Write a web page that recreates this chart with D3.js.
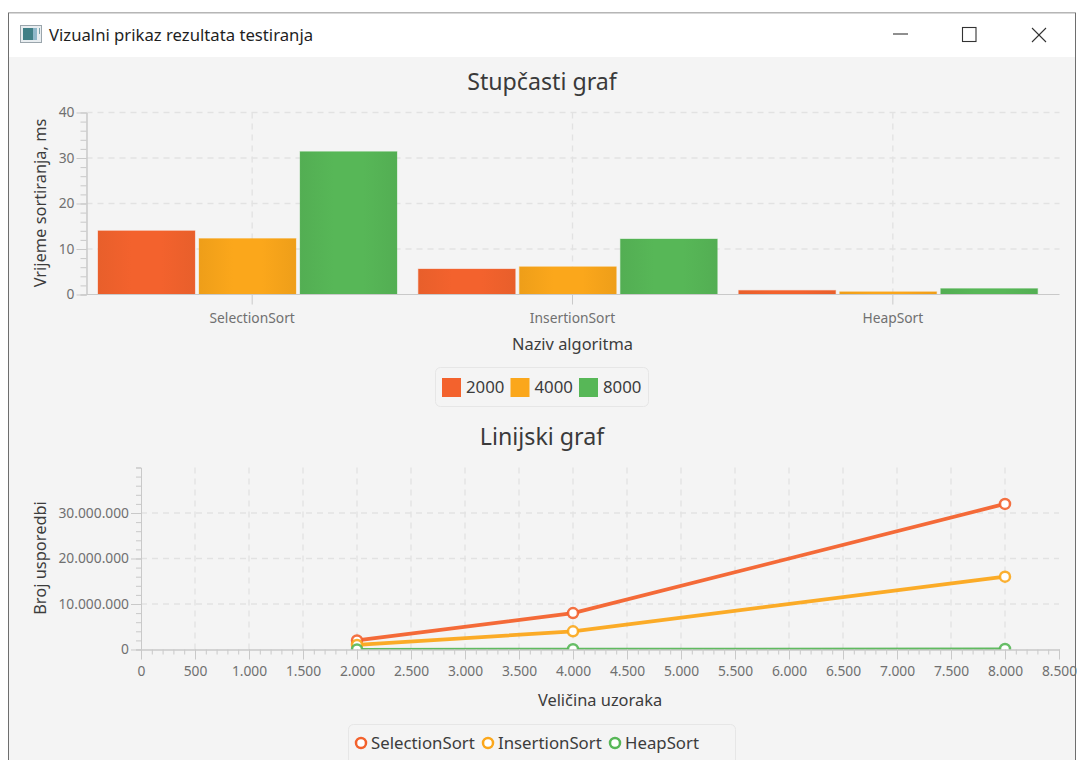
<!DOCTYPE html>
<html>
<head>
<meta charset="utf-8">
<script src="https://cdn.jsdelivr.net/npm/d3@7"></script>
<style>
  html, body { margin: 0; padding: 0; background: #fff; overflow: hidden; }
  svg { display: block; font-family: "Noto Sans", "Open Sans", sans-serif; }
  .axis path, .axis line { stroke: #c9c9c9; stroke-width: 1; fill: none; }
  .axis text { fill: #707070; font-size: 13.8px; font-family: "Noto Sans", sans-serif; }
  .grid line { stroke: #e2e2e2; stroke-width: 1.3; stroke-dasharray: 6 5; }
  .title { font-size: 23.2px; fill: #3a3a3a; text-anchor: middle; }
  .label { font-size: 16.4px; fill: #3c3c3c; text-anchor: middle; }
  .legend { font-size: 16.8px; fill: #3c3c3c; }
</style>
</head>
<body>
<script>
const algorithms = ['SelectionSort', 'InsertionSort', 'HeapSort'];
const sampleSizes = [2000, 4000, 8000];
const colors = ['#f3622d', '#fba71b', '#57b757'];
const darkColors = ['#e85f2b', '#ee9e19', '#53ae53'];

// vrijeme sortiranja u ms, po velicini uzorka
const time2000 = [14, 5.6, 0.9];
const time4000 = [12.3, 6.1, 0.6];
const time8000 = [31.4, 12.2, 1.3];
const timeSeries = [time2000, time4000, time8000];

// broj usporedbi, po algoritmu
const selectionCompares = [2000000, 8000000, 32000000];
const insertionCompares = [1000000, 4000000, 16000000];
const heapCompares = [20000, 50000, 110000];
const compareSeries = [selectionCompares, insertionCompares, heapCompares];

const timeTicks = [0, 10, 20, 30, 40];
const timeMinor = d3.range(0, 40, 2);
const compareTicks = [0, 10000000, 20000000, 30000000];
const compareMinor = d3.range(0, 40000001, 2000000);
const sizeTicks = d3.range(0, 8501, 500);
const sizeMinor = d3.range(0, 8501, 100);

const svg = d3.select('body').append('svg').attr('width', 1077).attr('height', 760);
const defs = svg.append('defs');

// prozor
svg.append('rect').attr('x', 8.5).attr('y', 13).attr('width', 1067).attr('height', 760)
  .attr('fill', '#f4f4f4').attr('stroke', '#6e6e6e').attr('stroke-width', 1);
svg.append('rect').attr('x', 9).attr('y', 13.5).attr('width', 1066).attr('height', 43.5).attr('fill', '#fff');

const icon = svg.append('g');
icon.append('rect').attr('x', 20.5).attr('y', 25.5).attr('width', 21).attr('height', 17)
  .attr('fill', '#e8edf0').attr('stroke', '#9aa5ac');
icon.append('rect').attr('x', 23).attr('y', 28).attr('width', 10).attr('height', 12).attr('fill', '#3f7f86');
icon.append('rect').attr('x', 33).attr('y', 28).attr('width', 4).attr('height', 12).attr('fill', '#8fb7c9');
icon.append('rect').attr('x', 39).attr('y', 28).attr('width', 1).attr('height', 6).attr('fill', '#7aa1a8');
svg.append('text').attr('x', 49).attr('y', 41).attr('font-size', 16.7).attr('fill', '#1f1f1f')
  .text('Vizualni prikaz rezultata testiranja');

const chrome = svg.append('g').attr('stroke', '#333').attr('fill', 'none').attr('stroke-width', 1.1);
chrome.append('line').attr('x1', 893).attr('x2', 908).attr('y1', 34).attr('y2', 34);
chrome.append('rect').attr('x', 962.5).attr('y', 27.5).attr('width', 13.5).attr('height', 14);
chrome.append('line').attr('x1', 1032).attr('x2', 1046).attr('y1', 28).attr('y2', 42);
chrome.append('line').attr('x1', 1046).attr('x2', 1032).attr('y1', 28).attr('y2', 42);

// gradijenti stupaca
colors.forEach((c, i) => {
  const g = defs.append('linearGradient').attr('id', 'bar' + i);
  g.append('stop').attr('offset', '0%').attr('stop-color', darkColors[i]);
  g.append('stop').attr('offset', '35%').attr('stop-color', c);
  g.append('stop').attr('offset', '65%').attr('stop-color', c);
  g.append('stop').attr('offset', '100%').attr('stop-color', darkColors[i]);
});

// ---- stupcasti graf ----
const barY = d3.scaleLinear().domain([0, 40]).range([294.5, 112.5]);
const barX = d3.scaleBand().domain(algorithms).range([92, 1053]);
const barInner = d3.scaleBand().domain(d3.range(sampleSizes.length)).range([6, 305]).paddingInner(0.04);
const barLeft = 86.5, barRight = 1059.5;

const barGrid = svg.append('g').attr('class', 'grid');
barGrid.selectAll('.h').data(timeTicks.slice(1)).enter().append('line')
  .attr('x1', barLeft).attr('x2', barRight).attr('y1', d => barY(d)).attr('y2', d => barY(d));
barGrid.selectAll('.v').data(algorithms).enter().append('line')
  .attr('x1', d => barX(d) + barX.bandwidth() / 2).attr('x2', d => barX(d) + barX.bandwidth() / 2)
  .attr('y1', barY(40)).attr('y2', barY(0));

timeSeries.forEach((vals, s) => {
  svg.append('g').selectAll('rect').data(vals).enter().append('rect')
    .attr('x', (d, i) => barX(algorithms[i]) + barInner(s))
    .attr('y', d => barY(d))
    .attr('width', barInner.bandwidth())
    .attr('height', d => barY(0) - barY(d))
    .attr('fill', `url(#bar${s})`)
    .attr('stroke', colors[s]).attr('stroke-opacity', 0.35);
});

svg.append('g').attr('class', 'axis').attr('transform', `translate(${barLeft},0)`)
  .call(d3.axisLeft(barY).tickValues(timeMinor).tickSize(6).tickFormat(''));
svg.append('g').attr('class', 'axis').attr('transform', `translate(${barLeft},0)`)
  .call(d3.axisLeft(barY).tickValues(timeTicks).tickSize(10).tickSizeOuter(0).tickPadding(2));

const barAxisX = svg.append('g').attr('class', 'axis').attr('transform', `translate(0,${barY(0)})`)
  .call(d3.axisBottom(barX).tickSize(10).tickSizeOuter(0).tickPadding(9));
barAxisX.select('path').attr('d', `M${barLeft},0H${barRight}`);

svg.append('text').attr('class', 'title').attr('x', 542).attr('y', 90).text('Stupčasti graf');
svg.append('text').attr('class', 'label').attr('x', 572.5).attr('y', 350).text('Naziv algoritma');
svg.append('text').attr('class', 'label').attr('transform', 'translate(46,203) rotate(-90)').text('Vrijeme sortiranja, ms');

// legenda stupaca
svg.append('rect').attr('x', 435.5).attr('y', 367.5).attr('width', 213).attr('height', 39).attr('rx', 5)
  .attr('fill', '#f4f4f4').attr('stroke', '#e6e6e6');
const barLegend = svg.append('g').selectAll('g').data(sampleSizes).enter().append('g')
  .attr('transform', (d, i) => `translate(${442 + i * 68.5},378)`);
barLegend.append('rect').attr('width', 19).attr('height', 19).attr('fill', (d, i) => colors[i]);
barLegend.append('text').attr('class', 'legend').attr('x', 24).attr('y', 15).text(d => d);

// ---- linijski graf ----
const lineX = d3.scaleLinear().domain([0, 8500]).range([141, 1059]);
const lineY = d3.scaleLinear().domain([0, 40000000]).range([649.5, 467.5]);
const dotted = d3.formatLocale({ decimal: ',', thousands: '.', grouping: [3], currency: ['', ''] }).format(',d');

const lineGrid = svg.append('g').attr('class', 'grid');
lineGrid.selectAll('.h').data(compareTicks.slice(1)).enter().append('line')
  .attr('x1', 141).attr('x2', 1059).attr('y1', d => lineY(d)).attr('y2', d => lineY(d));
lineGrid.selectAll('.v').data(sizeTicks.slice(1, -1)).enter().append('line')
  .attr('x1', d => lineX(d)).attr('x2', d => lineX(d)).attr('y1', 467.5).attr('y2', 649.5);

defs.append('clipPath').attr('id', 'plot').append('rect')
  .attr('x', 141).attr('y', 467).attr('width', 918).attr('height', 183);

const plot = svg.append('g').attr('clip-path', 'url(#plot)');
const line = d3.line().x((d, i) => lineX(sampleSizes[i])).y(d => lineY(d));
compareSeries.forEach((vals, s) => {
  plot.append('path').datum(vals).attr('d', line).attr('fill', 'none')
    .attr('stroke', colors[s]).attr('stroke-width', s === 2 ? 3 : 3.7).attr('stroke-opacity', 0.95);
  plot.append('g').selectAll('circle').data(vals).enter().append('circle')
    .attr('cx', (d, i) => lineX(sampleSizes[i])).attr('cy', d => lineY(d)).attr('r', 5)
    .attr('fill', '#fff').attr('stroke', colors[s]).attr('stroke-width', 2.5).attr('stroke-opacity', 0.9);
});

svg.append('g').attr('class', 'axis').attr('transform', 'translate(141,0)')
  .call(d3.axisLeft(lineY).tickValues(compareMinor).tickSize(5).tickFormat(''));
svg.append('g').attr('class', 'axis').attr('transform', 'translate(141,0)')
  .call(d3.axisLeft(lineY).tickValues(compareTicks).tickSize(10).tickSizeOuter(0).tickPadding(2).tickFormat(dotted));
svg.append('g').attr('class', 'axis').attr('transform', `translate(0,${lineY(0)})`)
  .call(d3.axisBottom(lineX).tickValues(sizeMinor).tickSize(5).tickFormat(''));
svg.append('g').attr('class', 'axis').attr('transform', `translate(0,${lineY(0)})`)
  .call(d3.axisBottom(lineX).tickValues(sizeTicks).tickSize(10).tickSizeOuter(0).tickPadding(7).tickFormat(dotted));

svg.append('text').attr('class', 'title').attr('x', 542).attr('y', 445).text('Linijski graf');
svg.append('text').attr('class', 'label').attr('x', 600).attr('y', 706).text('Veličina uzoraka');
svg.append('text').attr('class', 'label').attr('transform', 'translate(46,558) rotate(-90)').text('Broj usporedbi');

// legenda linija
svg.append('rect').attr('x', 348.5).attr('y', 724.5).attr('width', 387).attr('height', 50).attr('rx', 5)
  .attr('fill', '#f4f4f4').attr('stroke', '#e6e6e6');
const lineLegend = svg.append('g').selectAll('g').data(algorithms).enter().append('g')
  .attr('transform', (d, i) => `translate(${361 + i * 127},743)`);
lineLegend.append('circle').attr('r', 5).attr('fill', '#fff')
  .attr('stroke', (d, i) => colors[i]).attr('stroke-width', 2.5);
lineLegend.append('text').attr('class', 'legend').attr('x', 10).attr('y', 5.5).text(d => d);
</script>
</body>
</html>
